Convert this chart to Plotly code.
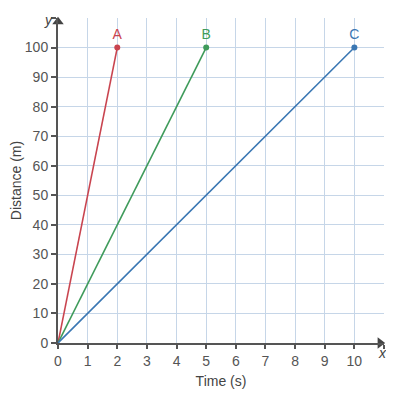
import plotly.graph_objects as go

# Data
series_names = ["A", "B", "C"]
series_times = [[0, 2], [0, 5], [0, 10]]
series_dist = [[0, 100], [0, 100], [0, 100]]
series_colors = ["#c9444f", "#3f9b5b", "#3a77b3"]
x_ticks = list(range(0, 11))
y_ticks = list(range(0, 101, 10))
x_max = 11
y_max = 110

fig = go.Figure()
for name, t, d, c in zip(series_names, series_times, series_dist, series_colors):
    fig.add_trace(go.Scatter(x=t, y=d, mode="lines", line=dict(color=c, width=1.6),
                             hoverinfo="skip", showlegend=False, cliponaxis=False))
    fig.add_trace(go.Scatter(x=[t[-1]], y=[d[-1]], mode="markers+text", text=[name],
                             textposition="top center",
                             textfont=dict(color=c, size=14, family="Liberation Sans"),
                             marker=dict(color=c, size=6), showlegend=False,
                             cliponaxis=False))

# axis arrowheads (tip at the end of each axis)
fig.add_trace(go.Scatter(x=[x_max - 0.13], y=[0], mode="markers",
                         marker=dict(symbol="triangle-right", size=10, color="#444"),
                         showlegend=False, cliponaxis=False, hoverinfo="skip"))
fig.add_trace(go.Scatter(x=[0], y=[y_max - 1.3], mode="markers",
                         marker=dict(symbol="triangle-up", size=10, color="#444"),
                         showlegend=False, cliponaxis=False, hoverinfo="skip"))

grid = "#c6d6e8"
fig.update_layout(
    width=386, height=401,
    margin=dict(l=50, r=10, t=10, b=66),
    plot_bgcolor="white", paper_bgcolor="white",
    font=dict(family="Liberation Sans", size=14, color="#555"),
    xaxis=dict(range=[0, x_max], tickvals=x_ticks + [x_max],
               ticktext=[str(v) for v in x_ticks] + [""],
               showgrid=True, gridcolor=grid, gridwidth=1.3,
               zeroline=False, showline=True, linecolor="#555", linewidth=2,
               ticks="outside", ticklen=4, tickcolor="#555", tickwidth=1.5,
               automargin=False,
               title=dict(text="Time (s)", font=dict(size=14, color="#444"), standoff=8),
               fixedrange=True),
    yaxis=dict(range=[0, y_max], tickvals=y_ticks + [y_max],
               ticktext=[str(v) for v in y_ticks] + [""],
               showgrid=True, gridcolor=grid, gridwidth=1.3,
               zeroline=False, showline=True, linecolor="#555", linewidth=2,
               ticks="outside", ticklen=5, tickcolor="#555", tickwidth=1.5,
               automargin=False,
               title=dict(text="Distance (m)", font=dict(size=14, color="#444"), standoff=2),
               fixedrange=True),
    annotations=[
        dict(x=x_max, y=0, xref="x", yref="y", text="<i>x</i>", showarrow=False,
             xanchor="center", yanchor="top", xshift=-2, yshift=0,
             font=dict(size=14, color="#444")),
        dict(x=0, y=y_max, xref="x", yref="y", text="<i>y</i>", showarrow=False,
             xanchor="right", yanchor="middle", xshift=-3, yshift=-2,
             font=dict(size=14, color="#444")),
    ],
)
fig.write_html("out.html")
